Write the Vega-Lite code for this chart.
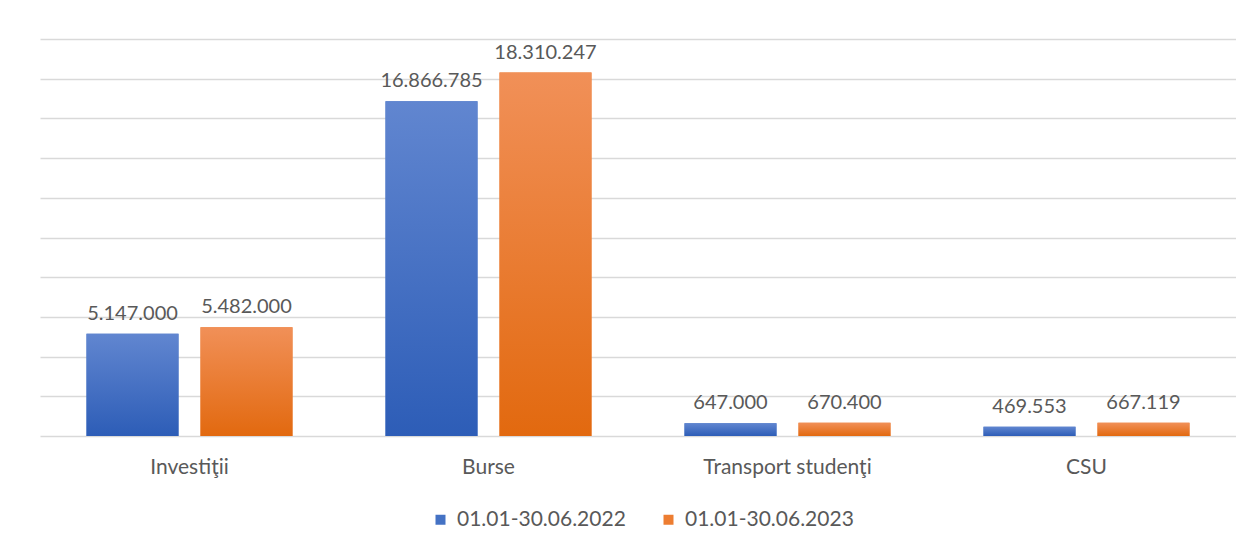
{
  "$schema": "https://vega.github.io/schema/vega-lite/v6.json",
  "width": 1196,
  "height": 397,
  "padding": {"left": 40, "top": 39, "right": 0, "bottom": 0},
  "autosize": {"type": "pad"},
  "background": "white",
  "data": {
    "values": [
      {"category": "Investiţii", "period": "01.01-30.06.2022", "value": 5147000},
      {"category": "Investiţii", "period": "01.01-30.06.2023", "value": 5482000},
      {"category": "Burse", "period": "01.01-30.06.2022", "value": 16866785},
      {"category": "Burse", "period": "01.01-30.06.2023", "value": 18310247},
      {"category": "Transport studenţi", "period": "01.01-30.06.2022", "value": 647000},
      {"category": "Transport studenţi", "period": "01.01-30.06.2023", "value": 670400},
      {"category": "CSU", "period": "01.01-30.06.2022", "value": 469553},
      {"category": "CSU", "period": "01.01-30.06.2023", "value": 667119}
    ]
  },
  "encoding": {
    "x": {
      "field": "category", "type": "nominal", "sort": null,
      "scale": {"paddingInner": 0, "paddingOuter": 0},
      "axis": {"title": null, "labelAngle": 0, "domain": false, "ticks": false, "labelPadding": 20, "labelFontSize": 21, "labelColor": "#595959", "labelFont": "Lato"}
    },
    "xOffset": {
      "field": "period", "type": "nominal",
      "scale": {"paddingInner": 0.193, "paddingOuter": 0.408}
    },
    "y": {
      "field": "value", "type": "quantitative",
      "scale": {"domain": [0, 20000000], "nice": false},
      "axis": {"title": null, "labels": false, "ticks": false, "domain": false, "values": [0,2000000,4000000,6000000,8000000,10000000,12000000,14000000,16000000,18000000,20000000], "gridColor": "#d9d9d9", "gridWidth": 1.5}
    }
  },
  "layer": [
    {
      "mark": {"type": "bar"},
      "encoding": {
        "color": {
          "field": "period", "type": "nominal",
          "scale": {"range": ["#4472c4", "#ed7d31"]},
          "legend": {"title": null, "orient": "none", "legendX": 390, "legendY": 470, "direction": "horizontal", "symbolType": "square", "symbolSize": 100, "labelFontSize": 21, "labelLimit": 400, "labelColor": "#595959", "labelFont": "Lato", "columnPadding": 32, "labelOffset": 6, "symbolStrokeWidth": 0}
        }
      }
    },
    {
      "mark": {"type": "bar"},
      "encoding": {
        "fill": {
          "condition": {"test": "datum.period === '01.01-30.06.2022'", "value": {"gradient": "linear", "x1": 0, "y1": 0, "x2": 0, "y2": 1, "stops": [{"offset": 0, "color": "#6186d0"}, {"offset": 1, "color": "#2d5db7"}]}},
          "value": {"gradient": "linear", "x1": 0, "y1": 0, "x2": 0, "y2": 1, "stops": [{"offset": 0, "color": "#f19058"}, {"offset": 1, "color": "#e2690f"}]}
        }
      }
    },
    {
      "mark": {"type": "text", "baseline": "bottom", "dy": -10, "fontSize": 20, "color": "#595959", "font": "Lato"},
      "encoding": {
        "text": {"field": "value", "type": "quantitative", "format": ",d"}
      }
    }
  ],
  "config": {
    "view": {"stroke": null},
    "locale": {"number": {"decimal": ",", "thousands": ".", "grouping": [3], "currency": ["", ""]}}
  }
}
